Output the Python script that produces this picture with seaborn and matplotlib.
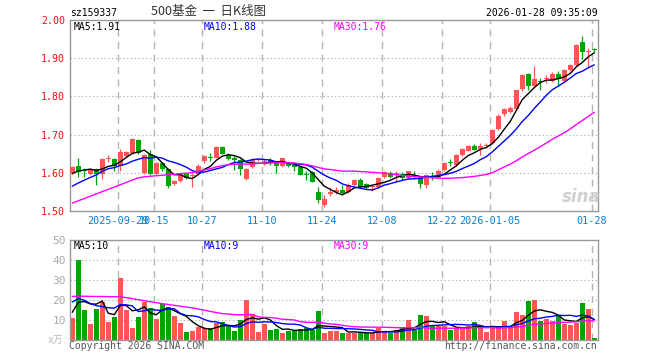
import numpy as np
import pandas as pd
import matplotlib
matplotlib.use("Agg")
import matplotlib.pyplot as plt
import seaborn as sns

# ---------------- data ----------------
holidays = ["2025-10-01", "2025-10-02", "2025-10-03", "2025-10-06", "2025-10-07",
            "2025-10-08", "2026-01-01", "2026-01-02"]
label_dates = ["2025-09-29", "2025-10-15", "2025-10-27", "2025-11-10", "2025-11-24",
               "2025-12-08", "2025-12-22", "2026-01-05", "2026-01-28"]
label_texts = ["2025-09-29", "10-15", "10-27", "11-10", "11-24",
               "12-08", "12-22", "2026-01-05", "01-28"]

opens = [1.600, 1.617, 1.607, 1.597, 1.611, 1.597, 1.636, 1.635, 1.619, 1.644,
         1.653, 1.685, 1.600, 1.648, 1.596, 1.625, 1.609, 1.571, 1.578, 1.597,
         1.592, 1.597, 1.630, 1.640, 1.640, 1.667, 1.646, 1.640, 1.634, 1.583,
         1.615, 1.633, 1.628, 1.634, 1.627, 1.617, 1.625, 1.621, 1.615, 1.596,
         1.602, 1.551, 1.516, 1.544, 1.549, 1.555, 1.551, 1.568, 1.582, 1.570,
         1.563, 1.564, 1.590, 1.599, 1.593, 1.597, 1.586, 1.594, 1.588, 1.567,
         1.590, 1.589, 1.608, 1.627, 1.621, 1.646, 1.658, 1.669, 1.662, 1.671,
         1.678, 1.715, 1.753, 1.759, 1.766, 1.820, 1.858, 1.827, 1.839, 1.845,
         1.840, 1.858, 1.840, 1.868, 1.882, 1.943, 1.916, 1.923]
highs = [1.619, 1.640, 1.612, 1.613, 1.613, 1.639, 1.646, 1.639, 1.661, 1.658,
         1.690, 1.688, 1.648, 1.660, 1.627, 1.628, 1.613, 1.580, 1.602, 1.600,
         1.600, 1.622, 1.647, 1.652, 1.669, 1.669, 1.652, 1.643, 1.637, 1.612,
         1.639, 1.638, 1.637, 1.640, 1.630, 1.640, 1.627, 1.625, 1.617, 1.604,
         1.604, 1.564, 1.542, 1.564, 1.564, 1.568, 1.573, 1.584, 1.586, 1.573,
         1.568, 1.588, 1.604, 1.604, 1.604, 1.602, 1.605, 1.605, 1.590, 1.595,
         1.602, 1.611, 1.627, 1.636, 1.650, 1.665, 1.674, 1.676, 1.678, 1.678,
         1.715, 1.753, 1.770, 1.775, 1.818, 1.858, 1.862, 1.880, 1.849, 1.855,
         1.864, 1.867, 1.871, 1.884, 1.937, 1.957, 1.928, 1.928]
lows = [1.596, 1.589, 1.590, 1.595, 1.567, 1.585, 1.628, 1.604, 1.604, 1.642,
        1.648, 1.650, 1.596, 1.594, 1.594, 1.606, 1.561, 1.569, 1.575, 1.585,
        1.563, 1.596, 1.625, 1.630, 1.638, 1.648, 1.634, 1.608, 1.593, 1.582,
        1.612, 1.631, 1.621, 1.621, 1.599, 1.615, 1.615, 1.604, 1.593, 1.582,
        1.575, 1.520, 1.511, 1.540, 1.544, 1.542, 1.547, 1.566, 1.561, 1.558,
        1.553, 1.561, 1.586, 1.586, 1.577, 1.582, 1.583, 1.584, 1.560, 1.560,
        1.582, 1.586, 1.605, 1.617, 1.618, 1.643, 1.656, 1.659, 1.647, 1.665,
        1.676, 1.711, 1.748, 1.757, 1.764, 1.814, 1.818, 1.823, 1.818, 1.836,
        1.838, 1.827, 1.838, 1.867, 1.880, 1.897, 1.874, 1.915]
closes = [1.615, 1.603, 1.604, 1.611, 1.597, 1.635, 1.637, 1.619, 1.655, 1.655,
          1.688, 1.653, 1.646, 1.597, 1.625, 1.609, 1.565, 1.578, 1.600, 1.587,
          1.594, 1.619, 1.645, 1.638, 1.667, 1.649, 1.637, 1.634, 1.610, 1.611,
          1.634, 1.636, 1.632, 1.625, 1.617, 1.639, 1.617, 1.615, 1.595, 1.594,
          1.577, 1.529, 1.531, 1.551, 1.555, 1.546, 1.568, 1.582, 1.564, 1.560,
          1.564, 1.586, 1.601, 1.590, 1.599, 1.586, 1.604, 1.592, 1.570, 1.593,
          1.588, 1.606, 1.625, 1.625, 1.647, 1.661, 1.669, 1.660, 1.669, 1.672,
          1.713, 1.750, 1.767, 1.770, 1.817, 1.855, 1.827, 1.846, 1.837, 1.847,
          1.858, 1.845, 1.868, 1.882, 1.934, 1.915, 1.919, 1.921]
volumes = [11.2, 40, 15, 8, 15.5, 19.2, 9.2, 11.5, 31.2, 15,
           6.2, 11.5, 19, 16, 10.5, 18.2, 16.5, 12, 8.5, 4.2,
           4.7, 6.3, 5.8, 5.8, 8.5, 9, 7.5, 4.7, 10.2, 20,
           13, 4.2, 8, 5.2, 5.7, 3.7, 4.7, 4.7, 5.7, 6.2,
           5, 14.5, 3.5, 4.7, 4.7, 3.5, 3.7, 3.7, 3.7, 3.3,
           3.3, 6.2, 4.5, 3.7, 5, 6.5, 10, 5, 12.5, 12,
           7.2, 7, 7, 5, 5.8, 5.7, 7.2, 9, 6.7, 4,
           7, 6.3, 9.7, 6.3, 14, 12.5, 19.5, 20, 9.5, 10.3,
           9.7, 12.5, 8, 7.5, 8.7, 18.5, 15.5, 1.2]
# sessions before the visible window (implied by where the MA lines start)
pre_closes = [1.423, 1.424, 1.431, 1.417, 1.455, 1.457, 1.439, 1.475, 1.475, 1.508,
              1.473, 1.560, 1.557, 1.585, 1.569, 1.525, 1.538, 1.560, 1.547, 1.554,
              1.520, 1.530, 1.540, 1.530, 1.540, 1.570, 1.590, 1.600, 1.615]
pre_volumes = [36, 16, 10, 17, 20, 11, 13, 30, 30, 21, 27, 34, 31, 25, 33,
               29, 25, 21, 17, 17, 24, 22, 25, 26, 24, 15, 13, 14, 16]

price_legend = ["MA5:1.91", "MA10:1.88", "MA30:1.76"]
vol_legend = ["MA5:10", "MA10:9", "MA30:9"]

# ---------------- frame ----------------
sns.set_style("white")
plt.rcParams["font.family"] = ["DejaVu Sans Mono", "Noto Sans CJK SC"]

RED = "#ff5555"
GREEN = "#00a600"
UP_TXT = "#ee1111"
BLUE_TXT = "#0a7fd0"
GRID = "#b4b4b4"
FRAME = "#999999"
MA_COLORS = ["#000000", "#0000ff", "#ff00ff"]

dates = pd.bdate_range("2025-09-17", "2026-01-28")
dates = dates[~dates.isin(pd.to_datetime(holidays))]
n = len(dates)
df = pd.DataFrame({"date": dates, "open": opens, "high": highs, "low": lows,
                   "close": closes, "vol": volumes})
df["idx"] = np.arange(n)
df["dir"] = np.where(df["close"] > df["open"], "up", "down")

all_close = pd.Series(pre_closes + closes)
all_vol = pd.Series(pre_volumes + volumes)
npre = len(pre_closes)
for w in (5, 10, 30):
    df[f"ma{w}"] = all_close.rolling(w, min_periods=1).mean().values[npre:]
    df[f"vma{w}"] = all_vol.rolling(w, min_periods=1).mean().values[npre:]

tick_idx = [int(np.where(dates == pd.Timestamp(d))[0][0]) for d in label_dates]
grid_x = [t - 0.35 for t in tick_idx]

W, H = 660, 360
fig = plt.figure(figsize=(W / 100, H / 100), dpi=100)
ax = fig.add_axes([70 / W, 1 - 211 / H, 528 / W, 191 / H])
axv = fig.add_axes([70 / W, 1 - 340 / H, 528 / W, 100 / H])

xlim = (-0.38, n - 0.38)

# ---- price panel ----
for y in [1.6, 1.7, 1.8, 1.9]:
    ax.axhline(y, color=GRID, lw=0.8, ls=(0, (1.2, 2.2)), zorder=0)
for gx in grid_x:
    ax.axvline(gx, color=GRID, lw=1.0, ls=(0, (5, 4)), zorder=0)

colors = np.where(df["dir"] == "up", RED, GREEN)
ax.vlines(df["idx"], df["low"], df["high"], colors=colors, lw=0.9, zorder=2)
body_h = np.maximum((df["close"] - df["open"]).abs(), 0.0026)
body_b = np.minimum(df["open"], df["close"])
ax.bar(df["idx"], body_h, bottom=body_b, width=0.8, color=colors, lw=0, zorder=3)

for w, c in zip((5, 10, 30), MA_COLORS):
    sns.lineplot(data=df, x="idx", y=f"ma{w}", ax=ax, color=c, lw=1.0, zorder=4)

ax.set_xlim(*xlim)
ax.set_ylim(1.50, 2.00)
ax.set_yticks([1.5, 1.6, 1.7, 1.8, 1.9, 2.0])
ax.set_yticklabels([f"{v:.2f}" for v in [1.5, 1.6, 1.7, 1.8, 1.9, 2.0]],
                   color=UP_TXT, fontsize=7.2)
ax.set_xticks(grid_x)
ax.set_xticklabels(label_texts, color=BLUE_TXT, fontsize=7.3)
ax.tick_params(length=0, pad=3.5)
ax.set_xlabel("")
ax.set_ylabel("")

lx = [74, 204, 334]
for x0, t, c in zip(lx, price_legend, MA_COLORS):
    ax.text(x0 / W, 1 - 27 / H, t, transform=fig.transFigure, color=c,
            fontsize=7, va="center", ha="left")
fig.text(581 / W, 1 - 197 / H, "sina", color="#d0d0d0", fontsize=12,
         fontstyle="italic", fontweight="bold", ha="center", va="center",
         family="DejaVu Sans")

# ---- volume panel ----
for y in [10, 20, 30, 40]:
    axv.axhline(y, color=GRID, lw=0.8, ls=(0, (1.2, 2.2)), zorder=0)
for gx in grid_x:
    axv.axvline(gx, color=GRID, lw=1.0, ls=(0, (5, 4)), zorder=0)

sns.barplot(data=df, x="idx", y="vol", hue="dir", palette={"up": RED, "down": GREEN},
            native_scale=True, width=0.8, dodge=False, errorbar=None,
            saturation=1, legend=False, ax=axv, linewidth=0, zorder=2)
for w, c in zip((5, 10, 30), MA_COLORS):
    sns.lineplot(data=df, x="idx", y=f"vma{w}", ax=axv, color=c, lw=1.0, zorder=4)

axv.set_xlim(*xlim)
axv.set_ylim(0, 50)
axv.set_yticks([10, 20, 30, 40, 50])
axv.set_yticklabels(["10", "20", "30", "40", "50"], color="#aaaaaa", fontsize=8)
axv.set_xticks([])
axv.tick_params(length=0, pad=3)
axv.set_xlabel("")
axv.set_ylabel("")
for x0, t, c in zip(lx, vol_legend, MA_COLORS):
    axv.text(x0 / W, 1 - 246 / H, t, transform=fig.transFigure, color=c,
             fontsize=7, va="center", ha="left")

for a in (ax, axv):
    for s in a.spines.values():
        s.set_visible(True)
        s.set_color(FRAME)
        s.set_linewidth(1.0)

# ---- header & footer texts ----
fig.text(70 / W, 1 - 13 / H, "sz159337", fontsize=7, color="#000000", va="center", ha="left")
fig.text(209 / W, 1 - 12 / H, "500基金  一  日K线图", fontsize=9, color="#333333",
         va="center", ha="center", family=["Noto Sans CJK SC", "DejaVu Sans"])
fig.text(598 / W, 1 - 13 / H, "2026-01-28 09:35:09", fontsize=7, color="#000000",
         va="center", ha="right")
fig.text(63 / W, 1 - 340 / H, "x万", fontsize=7, color="#bbbbbb", va="center", ha="right",
         family=["DejaVu Sans Mono", "Noto Sans CJK SC"])
fig.text(69 / W, 1 - 346 / H, "Copyright 2026 SINA.COM", fontsize=7, color="#555555",
         va="center", ha="left")
fig.text(597 / W, 1 - 346 / H, "http://finance.sina.com.cn", fontsize=7, color="#555555",
         va="center", ha="right")

fig.savefig("out.png", dpi=100)
